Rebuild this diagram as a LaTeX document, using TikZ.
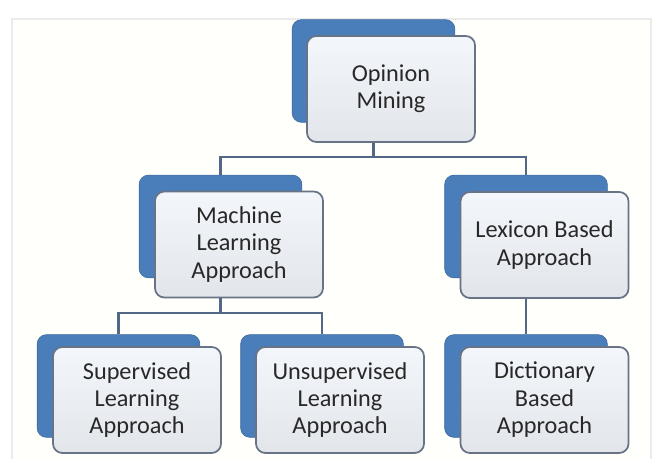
\documentclass[tikz,border=0pt]{standalone}
\usepackage{fontspec}
\setmainfont{Carlito}
\usetikzlibrary{positioning}
\definecolor{backblue}{RGB}{74,126,187}
\definecolor{framegray}{RGB}{104,116,134}
\definecolor{linkblue}{RGB}{82,104,132}
\definecolor{textgray}{RGB}{40,40,40}
\definecolor{facetop}{RGB}{243,246,250}
\definecolor{facebot}{RGB}{226,229,234}
\tikzset{
    boxb/.style = {rectangle, rounded corners=7pt, fill=backblue, draw=backblue!85!black, line width=0.5pt, minimum width=122pt, minimum height=77pt},
    boxf/.style = {rectangle, rounded corners=7pt, draw=framegray, line width=1.3pt, top color=facetop, bottom color=facebot, minimum width=126pt, minimum height=79.5pt, align=center, text=textgray, font=\fontsize{18.2}{20.6}\selectfont},
    edgel/.style = {line width=1.7pt, draw=linkblue},
    sheet/.style = {draw=black!8, line width=1pt, fill=white!99!yellow}
}

\begin{document}
\begin{tikzpicture}[x=0.75pt,y=-0.75pt]
\useasboundingbox (0,0) rectangle (653,459);
\draw[sheet] (12,19) rectangle (651,472);
%
\node[boxb] at (373.5,71) (omb) {};
\node[boxb] at (220.5,226.5) (mlb) {};
\node[boxb] at (526,226.5) (lbb) {};
\node[boxb] at (118.5,386) (slb) {};
\node[boxb] at (322,386) (ulb) {};
\node[boxb] at (526,386) (dbb) {};
%
\node[boxf] at (391,89) (om) {Opinion\\Mining};
\node[boxf] at (239,244.5) (ml) {Machine\\Learning\\Approach};
\node[boxf] at (544.5,245) (lb) {Lexicon Based\\Approach};
\node[boxf] at (137,400) (sl) {Supervised\\Learning\\Approach};
\node[boxf] at (340,400) (ul) {Unsupervised\\Learning\\Approach};
\node[boxf] at (544.5,400) (db) {Dictionary\\Based\\Approach};
%
\draw[edgel] (mlb.north) -- ++(0,-18) -| (om.south -| omb);
\draw[edgel] (lbb.north) -- ++(0,-18) -| (om.south -| omb);
\draw[edgel] (slb.north) -- ++(0,-21.5) -| (ml.south -| mlb);
\draw[edgel] (ulb.north) -- ++(0,-21.5) -| (ml.south -| mlb);
\draw[edgel] (lb.south -| lbb) -- (dbb.north);

\end{tikzpicture}
\end{document}
